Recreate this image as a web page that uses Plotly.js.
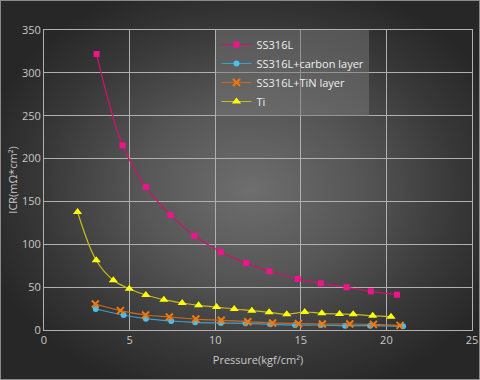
<!DOCTYPE html>
<html>
<head>
<meta charset="utf-8">
<script src="https://cdn.plot.ly/plotly-3.0.1.min.js"></script>
<style>
html,body{margin:0;padding:0;width:480px;height:380px;overflow:hidden;}
#bg{position:absolute;left:0;top:0;width:478px;height:378px;border:1px solid #8a8a8a;
background:radial-gradient(ellipse 58% 58% at 52% 50%, #6e6e6e 0%, #565656 40%, #383838 75%, #272727 100%);}
#chart{position:absolute;left:0;top:0;width:480px;height:380px;}
</style>
</head>
<body>
<div id="bg"></div>
<div id="chart"></div>
<script>
const ssX = [3.07, 4.59, 5.95, 7.39, 8.79, 10.33, 11.81, 13.17, 14.82, 16.17, 17.68, 19.09, 20.62];
const ssY = [322, 215.5, 167, 134, 110, 91, 78, 68.5, 59.5, 54.5, 49.8, 45.1, 41.2];
const cX = [3.02, 4.65, 5.95, 7.43, 8.83, 10.33, 11.77, 13.21, 14.67, 16.17, 17.59, 19.05, 20.97];
const cY = [24.5, 17.5, 13.2, 10.5, 8.9, 8.2, 7.8, 6.6, 5.8, 5.8, 5.1, 5.1, 4.3];
const tinX = [3.0, 4.46, 5.93, 7.32, 8.87, 10.35, 11.9, 13.35, 14.86, 16.26, 17.86, 19.24, 20.8];
const tinY = [30.3, 22.6, 17.5, 15.2, 12.8, 11.3, 9.7, 8.2, 7.4, 7.0, 7.0, 6.6, 5.4];
const tiX = [1.96, 3.05, 4.05, 4.98, 5.95, 7.0, 8.07, 9.03, 10.08, 11.11, 12.14, 13.15, 14.18, 15.23, 16.23, 17.26, 18.06, 19.2, 20.27];
const tiY = [137.7, 81.3, 58, 48.2, 40.8, 35.4, 31.5, 28.8, 26.8, 24.5, 22.6, 20.6, 18.3, 21, 19.4, 18.7, 18.3, 16.7, 15.6];
const names = ["SS316L", "SS316L+carbon layer", "SS316L+TiN layer", "Ti"];

const traces = [
  {x: ssX, y: ssY, name: names[0], mode: "lines+markers",
   line: {color: "#d4106e", width: 1.2, shape: "spline"},
   marker: {symbol: "square", size: 6, color: "#f0148a"}},
  {x: cX, y: cY, name: names[1], mode: "lines+markers",
   line: {color: "#3aa0d0", width: 1.2, shape: "spline"},
   marker: {symbol: "circle", size: 6, color: "#48c0f0"}},
  {x: tinX, y: tinY, name: names[2], mode: "lines+markers",
   line: {color: "#d06a1a", width: 1.2, shape: "spline"},
   marker: {symbol: "x-thin", size: 7, line: {color: "#f07a10", width: 2}, color: "#f07a10"}},
  {x: tiX, y: tiY, name: names[3], mode: "lines+markers",
   line: {color: "#c8bc1c", width: 1.2, shape: "spline"},
   marker: {symbol: "triangle-up", size: 8, color: "#ffff00"}}
];

const layout = {
  width: 480, height: 380,
  margin: {l: 44, r: 8, t: 30, b: 50},
  paper_bgcolor: "rgba(0,0,0,0)",
  plot_bgcolor: "rgba(0,0,0,0)",
  font: {family: "Open Sans, sans-serif", size: 10, color: "#c8c8c8"},
  showlegend: true,
  legend: {x: 0.403, y: 1.0, xanchor: "left", yanchor: "top",
    bgcolor: "rgba(120,120,120,0.5)", borderwidth: 0,
    font: {size: 11, color: "#eeeeee"}, tracegroupgap: 0, itemwidth: 30},
  xaxis: {range: [0, 25], dtick: 5, tick0: 0, showgrid: true, gridcolor: "#b0b0b0", gridwidth: 1,
    zeroline: false, showline: true, linecolor: "#b0b0b0", mirror: true, ticks: "",
    tickfont: {size: 11, color: "#c8c8c8"},
    title: {text: "Pressure(kgf/cm²)", font: {size: 11, color: "#c8c8c8"}, standoff: 10}},
  yaxis: {range: [0, 350], dtick: 50, tick0: 0, showgrid: true, gridcolor: "#b0b0b0", gridwidth: 1,
    zeroline: false, showline: true, linecolor: "#b0b0b0", mirror: true, ticks: "",
    tickfont: {size: 11, color: "#c8c8c8"},
    title: {text: "ICR(mΩ*cm²)", font: {size: 11, color: "#c8c8c8"}, standoff: 2}}
};

Plotly.newPlot("chart", traces, layout, {displayModeBar: false, staticPlot: true});
</script>
</body>
</html>
